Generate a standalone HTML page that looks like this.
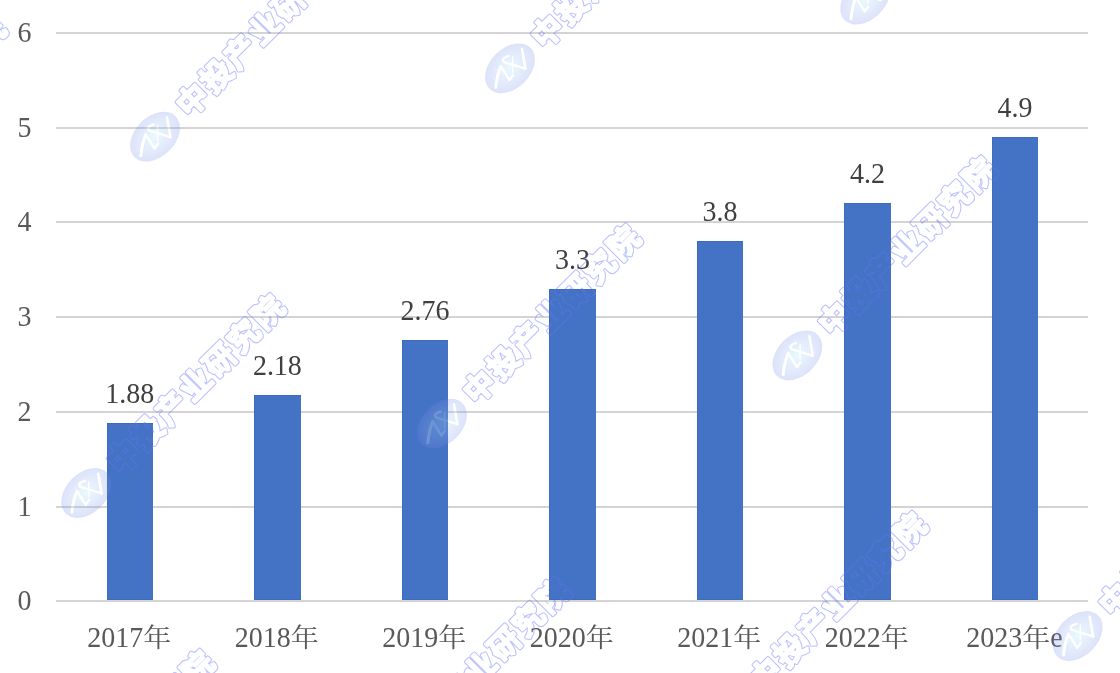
<!DOCTYPE html><html><head><meta charset="utf-8"><style>html,body{margin:0;padding:0;background:#fff;}svg{display:block}</style></head><body>
<svg width="1120" height="673" viewBox="0 0 1120 673">
<rect width="100%" height="100%" fill="#fff"/>
<rect x="56" y="600" width="1032" height="2" fill="#d4d4d4"/>
<rect x="56" y="506" width="1032" height="2" fill="#d4d4d4"/>
<rect x="56" y="411" width="1032" height="2" fill="#d4d4d4"/>
<rect x="56" y="316" width="1032" height="2" fill="#d4d4d4"/>
<rect x="56" y="221" width="1032" height="2" fill="#d4d4d4"/>
<rect x="56" y="127" width="1032" height="2" fill="#d4d4d4"/>
<rect x="56" y="32" width="1032" height="2" fill="#d4d4d4"/>
<text transform="translate(31.60,609.60) scale(1,1.07)" text-anchor="end" font-family="Liberation Serif, serif" font-size="28" fill="#595959">0</text>
<text transform="translate(31.60,515.60) scale(1,1.07)" text-anchor="end" font-family="Liberation Serif, serif" font-size="28" fill="#595959">1</text>
<text transform="translate(31.60,420.60) scale(1,1.07)" text-anchor="end" font-family="Liberation Serif, serif" font-size="28" fill="#595959">2</text>
<text transform="translate(31.60,325.60) scale(1,1.07)" text-anchor="end" font-family="Liberation Serif, serif" font-size="28" fill="#595959">3</text>
<text transform="translate(31.60,230.60) scale(1,1.07)" text-anchor="end" font-family="Liberation Serif, serif" font-size="28" fill="#595959">4</text>
<text transform="translate(31.60,136.60) scale(1,1.07)" text-anchor="end" font-family="Liberation Serif, serif" font-size="28" fill="#595959">5</text>
<text transform="translate(31.60,41.60) scale(1,1.07)" text-anchor="end" font-family="Liberation Serif, serif" font-size="28" fill="#595959">6</text>
<rect x="107" y="423" width="46" height="177" fill="#4472c4"/>
<rect x="107" y="423" width="46" height="1" fill="#3c6bc2"/>
<rect x="107" y="423" width="1" height="177" fill="#3c6bc2"/>
<rect x="107" y="599" width="46" height="1" fill="#3c6bc2"/>
<text transform="translate(129.85,403.00) scale(1,1.07)" text-anchor="middle" font-family="Liberation Serif, serif" font-size="28" fill="#404040">1.88</text>
<text transform="translate(87.25,647.00) scale(1,1.07)" text-anchor="start" font-family="Liberation Serif, serif" font-size="28" fill="#595959">2017</text>
<text transform="translate(143.25,647) scale(1,0.95)" font-family="'Liberation Serif', 'Noto Serif CJK SC', serif" font-size="28" fill="#595959">年</text>
<rect x="254" y="395" width="47" height="205" fill="#4472c4"/>
<rect x="254" y="395" width="47" height="1" fill="#3c6bc2"/>
<rect x="254" y="395" width="1" height="205" fill="#3c6bc2"/>
<rect x="254" y="599" width="47" height="1" fill="#3c6bc2"/>
<text transform="translate(277.37,375.00) scale(1,1.07)" text-anchor="middle" font-family="Liberation Serif, serif" font-size="28" fill="#404040">2.18</text>
<text transform="translate(234.77,647.00) scale(1,1.07)" text-anchor="start" font-family="Liberation Serif, serif" font-size="28" fill="#595959">2018</text>
<text transform="translate(290.77,647) scale(1,0.95)" font-family="'Liberation Serif', 'Noto Serif CJK SC', serif" font-size="28" fill="#595959">年</text>
<rect x="402" y="340" width="46" height="260" fill="#4472c4"/>
<rect x="402" y="340" width="46" height="1" fill="#3c6bc2"/>
<rect x="402" y="340" width="1" height="260" fill="#3c6bc2"/>
<rect x="402" y="599" width="46" height="1" fill="#3c6bc2"/>
<text transform="translate(424.89,320.00) scale(1,1.07)" text-anchor="middle" font-family="Liberation Serif, serif" font-size="28" fill="#404040">2.76</text>
<text transform="translate(382.29,647.00) scale(1,1.07)" text-anchor="start" font-family="Liberation Serif, serif" font-size="28" fill="#595959">2019</text>
<text transform="translate(438.29,647) scale(1,0.95)" font-family="'Liberation Serif', 'Noto Serif CJK SC', serif" font-size="28" fill="#595959">年</text>
<rect x="549" y="289" width="47" height="311" fill="#4472c4"/>
<rect x="549" y="289" width="47" height="1" fill="#3c6bc2"/>
<rect x="549" y="289" width="1" height="311" fill="#3c6bc2"/>
<rect x="549" y="599" width="47" height="1" fill="#3c6bc2"/>
<text transform="translate(572.41,269.00) scale(1,1.07)" text-anchor="middle" font-family="Liberation Serif, serif" font-size="28" fill="#404040">3.3</text>
<text transform="translate(529.81,647.00) scale(1,1.07)" text-anchor="start" font-family="Liberation Serif, serif" font-size="28" fill="#595959">2020</text>
<text transform="translate(585.81,647) scale(1,0.95)" font-family="'Liberation Serif', 'Noto Serif CJK SC', serif" font-size="28" fill="#595959">年</text>
<rect x="697" y="241" width="46" height="359" fill="#4472c4"/>
<rect x="697" y="241" width="46" height="1" fill="#3c6bc2"/>
<rect x="697" y="241" width="1" height="359" fill="#3c6bc2"/>
<rect x="697" y="599" width="46" height="1" fill="#3c6bc2"/>
<text transform="translate(719.93,221.00) scale(1,1.07)" text-anchor="middle" font-family="Liberation Serif, serif" font-size="28" fill="#404040">3.8</text>
<text transform="translate(677.33,647.00) scale(1,1.07)" text-anchor="start" font-family="Liberation Serif, serif" font-size="28" fill="#595959">2021</text>
<text transform="translate(733.33,647) scale(1,0.95)" font-family="'Liberation Serif', 'Noto Serif CJK SC', serif" font-size="28" fill="#595959">年</text>
<rect x="844" y="203" width="47" height="397" fill="#4472c4"/>
<rect x="844" y="203" width="47" height="1" fill="#3c6bc2"/>
<rect x="844" y="203" width="1" height="397" fill="#3c6bc2"/>
<rect x="844" y="599" width="47" height="1" fill="#3c6bc2"/>
<text transform="translate(867.45,183.00) scale(1,1.07)" text-anchor="middle" font-family="Liberation Serif, serif" font-size="28" fill="#404040">4.2</text>
<text transform="translate(824.85,647.00) scale(1,1.07)" text-anchor="start" font-family="Liberation Serif, serif" font-size="28" fill="#595959">2022</text>
<text transform="translate(880.85,647) scale(1,0.95)" font-family="'Liberation Serif', 'Noto Serif CJK SC', serif" font-size="28" fill="#595959">年</text>
<rect x="992" y="137" width="46" height="463" fill="#4472c4"/>
<rect x="992" y="137" width="46" height="1" fill="#3c6bc2"/>
<rect x="992" y="137" width="1" height="463" fill="#3c6bc2"/>
<rect x="992" y="599" width="46" height="1" fill="#3c6bc2"/>
<text transform="translate(1014.97,117.00) scale(1,1.07)" text-anchor="middle" font-family="Liberation Serif, serif" font-size="28" fill="#404040">4.9</text>
<text transform="translate(966.16,647.00) scale(1,1.07)" text-anchor="start" font-family="Liberation Serif, serif" font-size="28" fill="#595959">2023</text>
<text transform="translate(1022.16,647) scale(1,0.95)" font-family="'Liberation Serif', 'Noto Serif CJK SC', serif" font-size="28" fill="#595959">年</text>
<text transform="translate(1050.16,647.00) scale(1,1.07)" text-anchor="start" font-family="Liberation Serif, serif" font-size="28" fill="#595959">e</text>
<defs><radialGradient id="lg" cx="0.5" cy="0.5" r="0.5"><stop offset="0" stop-color="#a8e6ff"/><stop offset="0.5" stop-color="#90b8f2"/><stop offset="0.9" stop-color="#7a92ec"/><stop offset="1" stop-color="#6f86ea"/></radialGradient><filter id="soft" x="-20%" y="-20%" width="140%" height="140%"><feGaussianBlur stdDeviation="0.35"/></filter></defs>
<g transform="translate(155.00,136.70)"><g opacity="0.24"><ellipse cx="0" cy="0" rx="29" ry="20" transform="rotate(-45)" fill="url(#lg)"/><path d="M-14.2 19.1 Q-12.8 6 -9.2 -2" fill="none" stroke="#fff" stroke-width="3.0" stroke-linecap="round"/><path d="M-9.2 -2 L-0.5 11.8 L3 6.9" fill="none" stroke="#fff" stroke-width="2.4" stroke-linecap="round" stroke-linejoin="round"/><path d="M2.6 -11.2 L2.7 4" fill="none" stroke="#fff" stroke-width="1.5" stroke-linecap="round"/><path d="M-1.3 -12.2 Q-9.5 -9.8 -5.9 -6.2 L15.4 0.4" fill="none" stroke="#fff" stroke-width="2.4" stroke-linecap="round" stroke-linejoin="round"/><path d="M15.4 0.4 L12 -19.3" fill="none" stroke="#fff" stroke-width="2.6" stroke-linecap="round"/></g><g transform="rotate(-45)"><mask id="m0" maskUnits="userSpaceOnUse" x="-100" y="-100" width="500" height="200"><text x="37" y="11.72" font-family="'Liberation Sans', 'Noto Sans CJK SC', sans-serif" font-weight="700" font-size="31" letter-spacing="3" fill="#fff" stroke="#fff" stroke-width="4" stroke-linejoin="round">中投产业研究院</text><text x="37" y="11.72" font-family="'Liberation Sans', 'Noto Sans CJK SC', sans-serif" font-weight="700" font-size="31" letter-spacing="3" fill="#000" stroke="#000" stroke-width="2" stroke-linejoin="round">中投产业研究院</text></mask><rect x="-100" y="-100" width="500" height="200" fill="#6476fa" fill-opacity="0.45" mask="url(#m0)" filter="url(#soft)"/></g></g>
<g transform="translate(510.00,68.30)"><g opacity="0.24"><ellipse cx="0" cy="0" rx="29" ry="20" transform="rotate(-45)" fill="url(#lg)"/><path d="M-14.2 19.1 Q-12.8 6 -9.2 -2" fill="none" stroke="#fff" stroke-width="3.0" stroke-linecap="round"/><path d="M-9.2 -2 L-0.5 11.8 L3 6.9" fill="none" stroke="#fff" stroke-width="2.4" stroke-linecap="round" stroke-linejoin="round"/><path d="M2.6 -11.2 L2.7 4" fill="none" stroke="#fff" stroke-width="1.5" stroke-linecap="round"/><path d="M-1.3 -12.2 Q-9.5 -9.8 -5.9 -6.2 L15.4 0.4" fill="none" stroke="#fff" stroke-width="2.4" stroke-linecap="round" stroke-linejoin="round"/><path d="M15.4 0.4 L12 -19.3" fill="none" stroke="#fff" stroke-width="2.6" stroke-linecap="round"/></g><g transform="rotate(-45)"><mask id="m1" maskUnits="userSpaceOnUse" x="-100" y="-100" width="500" height="200"><text x="37" y="11.72" font-family="'Liberation Sans', 'Noto Sans CJK SC', sans-serif" font-weight="700" font-size="31" letter-spacing="3" fill="#fff" stroke="#fff" stroke-width="4" stroke-linejoin="round">中投产业研究院</text><text x="37" y="11.72" font-family="'Liberation Sans', 'Noto Sans CJK SC', sans-serif" font-weight="700" font-size="31" letter-spacing="3" fill="#000" stroke="#000" stroke-width="2" stroke-linejoin="round">中投产业研究院</text></mask><rect x="-100" y="-100" width="500" height="200" fill="#6476fa" fill-opacity="0.45" mask="url(#m1)" filter="url(#soft)"/></g></g>
<g transform="translate(865.20,-0.40)"><g opacity="0.24"><ellipse cx="0" cy="0" rx="29" ry="20" transform="rotate(-45)" fill="url(#lg)"/><path d="M-14.2 19.1 Q-12.8 6 -9.2 -2" fill="none" stroke="#fff" stroke-width="3.0" stroke-linecap="round"/><path d="M-9.2 -2 L-0.5 11.8 L3 6.9" fill="none" stroke="#fff" stroke-width="2.4" stroke-linecap="round" stroke-linejoin="round"/><path d="M2.6 -11.2 L2.7 4" fill="none" stroke="#fff" stroke-width="1.5" stroke-linecap="round"/><path d="M-1.3 -12.2 Q-9.5 -9.8 -5.9 -6.2 L15.4 0.4" fill="none" stroke="#fff" stroke-width="2.4" stroke-linecap="round" stroke-linejoin="round"/><path d="M15.4 0.4 L12 -19.3" fill="none" stroke="#fff" stroke-width="2.6" stroke-linecap="round"/></g><g transform="rotate(-45)"><mask id="m2" maskUnits="userSpaceOnUse" x="-100" y="-100" width="500" height="200"><text x="37" y="11.72" font-family="'Liberation Sans', 'Noto Sans CJK SC', sans-serif" font-weight="700" font-size="31" letter-spacing="3" fill="#fff" stroke="#fff" stroke-width="4" stroke-linejoin="round">中投产业研究院</text><text x="37" y="11.72" font-family="'Liberation Sans', 'Noto Sans CJK SC', sans-serif" font-weight="700" font-size="31" letter-spacing="3" fill="#000" stroke="#000" stroke-width="2" stroke-linejoin="round">中投产业研究院</text></mask><rect x="-100" y="-100" width="500" height="200" fill="#6476fa" fill-opacity="0.45" mask="url(#m2)" filter="url(#soft)"/></g></g>
<g transform="translate(442.00,423.70)"><g opacity="0.24"><ellipse cx="0" cy="0" rx="29" ry="20" transform="rotate(-45)" fill="url(#lg)"/><path d="M-14.2 19.1 Q-12.8 6 -9.2 -2" fill="none" stroke="#fff" stroke-width="3.0" stroke-linecap="round"/><path d="M-9.2 -2 L-0.5 11.8 L3 6.9" fill="none" stroke="#fff" stroke-width="2.4" stroke-linecap="round" stroke-linejoin="round"/><path d="M2.6 -11.2 L2.7 4" fill="none" stroke="#fff" stroke-width="1.5" stroke-linecap="round"/><path d="M-1.3 -12.2 Q-9.5 -9.8 -5.9 -6.2 L15.4 0.4" fill="none" stroke="#fff" stroke-width="2.4" stroke-linecap="round" stroke-linejoin="round"/><path d="M15.4 0.4 L12 -19.3" fill="none" stroke="#fff" stroke-width="2.6" stroke-linecap="round"/></g><g transform="rotate(-45)"><mask id="m3" maskUnits="userSpaceOnUse" x="-100" y="-100" width="500" height="200"><text x="37" y="11.72" font-family="'Liberation Sans', 'Noto Sans CJK SC', sans-serif" font-weight="700" font-size="31" letter-spacing="3" fill="#fff" stroke="#fff" stroke-width="4" stroke-linejoin="round">中投产业研究院</text><text x="37" y="11.72" font-family="'Liberation Sans', 'Noto Sans CJK SC', sans-serif" font-weight="700" font-size="31" letter-spacing="3" fill="#000" stroke="#000" stroke-width="2" stroke-linejoin="round">中投产业研究院</text></mask><rect x="-100" y="-100" width="500" height="200" fill="#6476fa" fill-opacity="0.45" mask="url(#m3)" filter="url(#soft)"/></g></g>
<g transform="translate(797.40,355.40)"><g opacity="0.24"><ellipse cx="0" cy="0" rx="29" ry="20" transform="rotate(-45)" fill="url(#lg)"/><path d="M-14.2 19.1 Q-12.8 6 -9.2 -2" fill="none" stroke="#fff" stroke-width="3.0" stroke-linecap="round"/><path d="M-9.2 -2 L-0.5 11.8 L3 6.9" fill="none" stroke="#fff" stroke-width="2.4" stroke-linecap="round" stroke-linejoin="round"/><path d="M2.6 -11.2 L2.7 4" fill="none" stroke="#fff" stroke-width="1.5" stroke-linecap="round"/><path d="M-1.3 -12.2 Q-9.5 -9.8 -5.9 -6.2 L15.4 0.4" fill="none" stroke="#fff" stroke-width="2.4" stroke-linecap="round" stroke-linejoin="round"/><path d="M15.4 0.4 L12 -19.3" fill="none" stroke="#fff" stroke-width="2.6" stroke-linecap="round"/></g><g transform="rotate(-45)"><mask id="m4" maskUnits="userSpaceOnUse" x="-100" y="-100" width="500" height="200"><text x="37" y="11.72" font-family="'Liberation Sans', 'Noto Sans CJK SC', sans-serif" font-weight="700" font-size="31" letter-spacing="3" fill="#fff" stroke="#fff" stroke-width="4" stroke-linejoin="round">中投产业研究院</text><text x="37" y="11.72" font-family="'Liberation Sans', 'Noto Sans CJK SC', sans-serif" font-weight="700" font-size="31" letter-spacing="3" fill="#000" stroke="#000" stroke-width="2" stroke-linejoin="round">中投产业研究院</text></mask><rect x="-100" y="-100" width="500" height="200" fill="#6476fa" fill-opacity="0.45" mask="url(#m4)" filter="url(#soft)"/></g></g>
<g transform="translate(86.20,493.00)"><g opacity="0.24"><ellipse cx="0" cy="0" rx="29" ry="20" transform="rotate(-45)" fill="url(#lg)"/><path d="M-14.2 19.1 Q-12.8 6 -9.2 -2" fill="none" stroke="#fff" stroke-width="3.0" stroke-linecap="round"/><path d="M-9.2 -2 L-0.5 11.8 L3 6.9" fill="none" stroke="#fff" stroke-width="2.4" stroke-linecap="round" stroke-linejoin="round"/><path d="M2.6 -11.2 L2.7 4" fill="none" stroke="#fff" stroke-width="1.5" stroke-linecap="round"/><path d="M-1.3 -12.2 Q-9.5 -9.8 -5.9 -6.2 L15.4 0.4" fill="none" stroke="#fff" stroke-width="2.4" stroke-linecap="round" stroke-linejoin="round"/><path d="M15.4 0.4 L12 -19.3" fill="none" stroke="#fff" stroke-width="2.6" stroke-linecap="round"/></g><g transform="rotate(-45)"><mask id="m5" maskUnits="userSpaceOnUse" x="-100" y="-100" width="500" height="200"><text x="37" y="11.72" font-family="'Liberation Sans', 'Noto Sans CJK SC', sans-serif" font-weight="700" font-size="31" letter-spacing="3" fill="#fff" stroke="#fff" stroke-width="4" stroke-linejoin="round">中投产业研究院</text><text x="37" y="11.72" font-family="'Liberation Sans', 'Noto Sans CJK SC', sans-serif" font-weight="700" font-size="31" letter-spacing="3" fill="#000" stroke="#000" stroke-width="2" stroke-linejoin="round">中投产业研究院</text></mask><rect x="-100" y="-100" width="500" height="200" fill="#6476fa" fill-opacity="0.45" mask="url(#m5)" filter="url(#soft)"/></g></g>
<g transform="translate(1077.70,636.00)"><g opacity="0.24"><ellipse cx="0" cy="0" rx="29" ry="20" transform="rotate(-45)" fill="url(#lg)"/><path d="M-14.2 19.1 Q-12.8 6 -9.2 -2" fill="none" stroke="#fff" stroke-width="3.0" stroke-linecap="round"/><path d="M-9.2 -2 L-0.5 11.8 L3 6.9" fill="none" stroke="#fff" stroke-width="2.4" stroke-linecap="round" stroke-linejoin="round"/><path d="M2.6 -11.2 L2.7 4" fill="none" stroke="#fff" stroke-width="1.5" stroke-linecap="round"/><path d="M-1.3 -12.2 Q-9.5 -9.8 -5.9 -6.2 L15.4 0.4" fill="none" stroke="#fff" stroke-width="2.4" stroke-linecap="round" stroke-linejoin="round"/><path d="M15.4 0.4 L12 -19.3" fill="none" stroke="#fff" stroke-width="2.6" stroke-linecap="round"/></g><g transform="rotate(-45)"><mask id="m6" maskUnits="userSpaceOnUse" x="-100" y="-100" width="500" height="200"><text x="37" y="11.72" font-family="'Liberation Sans', 'Noto Sans CJK SC', sans-serif" font-weight="700" font-size="31" letter-spacing="3" fill="#fff" stroke="#fff" stroke-width="4" stroke-linejoin="round">中投产业研究院</text><text x="37" y="11.72" font-family="'Liberation Sans', 'Noto Sans CJK SC', sans-serif" font-weight="700" font-size="31" letter-spacing="3" fill="#000" stroke="#000" stroke-width="2" stroke-linejoin="round">中投产业研究院</text></mask><rect x="-100" y="-100" width="500" height="200" fill="#6476fa" fill-opacity="0.45" mask="url(#m6)" filter="url(#soft)"/></g></g>
<g transform="translate(370.90,776.90)"><g opacity="0.24"><ellipse cx="0" cy="0" rx="29" ry="20" transform="rotate(-45)" fill="url(#lg)"/><path d="M-14.2 19.1 Q-12.8 6 -9.2 -2" fill="none" stroke="#fff" stroke-width="3.0" stroke-linecap="round"/><path d="M-9.2 -2 L-0.5 11.8 L3 6.9" fill="none" stroke="#fff" stroke-width="2.4" stroke-linecap="round" stroke-linejoin="round"/><path d="M2.6 -11.2 L2.7 4" fill="none" stroke="#fff" stroke-width="1.5" stroke-linecap="round"/><path d="M-1.3 -12.2 Q-9.5 -9.8 -5.9 -6.2 L15.4 0.4" fill="none" stroke="#fff" stroke-width="2.4" stroke-linecap="round" stroke-linejoin="round"/><path d="M15.4 0.4 L12 -19.3" fill="none" stroke="#fff" stroke-width="2.6" stroke-linecap="round"/></g><g transform="rotate(-45)"><mask id="m7" maskUnits="userSpaceOnUse" x="-100" y="-100" width="500" height="200"><text x="37" y="11.72" font-family="'Liberation Sans', 'Noto Sans CJK SC', sans-serif" font-weight="700" font-size="31" letter-spacing="3" fill="#fff" stroke="#fff" stroke-width="4" stroke-linejoin="round">中投产业研究院</text><text x="37" y="11.72" font-family="'Liberation Sans', 'Noto Sans CJK SC', sans-serif" font-weight="700" font-size="31" letter-spacing="3" fill="#000" stroke="#000" stroke-width="2" stroke-linejoin="round">中投产业研究院</text></mask><rect x="-100" y="-100" width="500" height="200" fill="#6476fa" fill-opacity="0.45" mask="url(#m7)" filter="url(#soft)"/></g></g>
<g transform="translate(728.20,710.90)"><g opacity="0.24"><ellipse cx="0" cy="0" rx="29" ry="20" transform="rotate(-45)" fill="url(#lg)"/><path d="M-14.2 19.1 Q-12.8 6 -9.2 -2" fill="none" stroke="#fff" stroke-width="3.0" stroke-linecap="round"/><path d="M-9.2 -2 L-0.5 11.8 L3 6.9" fill="none" stroke="#fff" stroke-width="2.4" stroke-linecap="round" stroke-linejoin="round"/><path d="M2.6 -11.2 L2.7 4" fill="none" stroke="#fff" stroke-width="1.5" stroke-linecap="round"/><path d="M-1.3 -12.2 Q-9.5 -9.8 -5.9 -6.2 L15.4 0.4" fill="none" stroke="#fff" stroke-width="2.4" stroke-linecap="round" stroke-linejoin="round"/><path d="M15.4 0.4 L12 -19.3" fill="none" stroke="#fff" stroke-width="2.6" stroke-linecap="round"/></g><g transform="rotate(-45)"><mask id="m8" maskUnits="userSpaceOnUse" x="-100" y="-100" width="500" height="200"><text x="37" y="11.72" font-family="'Liberation Sans', 'Noto Sans CJK SC', sans-serif" font-weight="700" font-size="31" letter-spacing="3" fill="#fff" stroke="#fff" stroke-width="4" stroke-linejoin="round">中投产业研究院</text><text x="37" y="11.72" font-family="'Liberation Sans', 'Noto Sans CJK SC', sans-serif" font-weight="700" font-size="31" letter-spacing="3" fill="#000" stroke="#000" stroke-width="2" stroke-linejoin="round">中投产业研究院</text></mask><rect x="-100" y="-100" width="500" height="200" fill="#6476fa" fill-opacity="0.45" mask="url(#m8)" filter="url(#soft)"/></g></g>
<g transform="translate(-192.40,214.90)"><g opacity="0.24"><ellipse cx="0" cy="0" rx="29" ry="20" transform="rotate(-45)" fill="url(#lg)"/><path d="M-14.2 19.1 Q-12.8 6 -9.2 -2" fill="none" stroke="#fff" stroke-width="3.0" stroke-linecap="round"/><path d="M-9.2 -2 L-0.5 11.8 L3 6.9" fill="none" stroke="#fff" stroke-width="2.4" stroke-linecap="round" stroke-linejoin="round"/><path d="M2.6 -11.2 L2.7 4" fill="none" stroke="#fff" stroke-width="1.5" stroke-linecap="round"/><path d="M-1.3 -12.2 Q-9.5 -9.8 -5.9 -6.2 L15.4 0.4" fill="none" stroke="#fff" stroke-width="2.4" stroke-linecap="round" stroke-linejoin="round"/><path d="M15.4 0.4 L12 -19.3" fill="none" stroke="#fff" stroke-width="2.6" stroke-linecap="round"/></g><g transform="rotate(-45)"><mask id="m9" maskUnits="userSpaceOnUse" x="-100" y="-100" width="500" height="200"><text x="37" y="11.72" font-family="'Liberation Sans', 'Noto Sans CJK SC', sans-serif" font-weight="700" font-size="31" letter-spacing="3" fill="#fff" stroke="#fff" stroke-width="4" stroke-linejoin="round">中投产业研究院</text><text x="37" y="11.72" font-family="'Liberation Sans', 'Noto Sans CJK SC', sans-serif" font-weight="700" font-size="31" letter-spacing="3" fill="#000" stroke="#000" stroke-width="2" stroke-linejoin="round">中投产业研究院</text></mask><rect x="-100" y="-100" width="500" height="200" fill="#6476fa" fill-opacity="0.45" mask="url(#m9)" filter="url(#soft)"/></g></g>
<g transform="translate(16.10,848.80)"><g opacity="0.24"><ellipse cx="0" cy="0" rx="29" ry="20" transform="rotate(-45)" fill="url(#lg)"/><path d="M-14.2 19.1 Q-12.8 6 -9.2 -2" fill="none" stroke="#fff" stroke-width="3.0" stroke-linecap="round"/><path d="M-9.2 -2 L-0.5 11.8 L3 6.9" fill="none" stroke="#fff" stroke-width="2.4" stroke-linecap="round" stroke-linejoin="round"/><path d="M2.6 -11.2 L2.7 4" fill="none" stroke="#fff" stroke-width="1.5" stroke-linecap="round"/><path d="M-1.3 -12.2 Q-9.5 -9.8 -5.9 -6.2 L15.4 0.4" fill="none" stroke="#fff" stroke-width="2.4" stroke-linecap="round" stroke-linejoin="round"/><path d="M15.4 0.4 L12 -19.3" fill="none" stroke="#fff" stroke-width="2.6" stroke-linecap="round"/></g><g transform="rotate(-45)"><mask id="m10" maskUnits="userSpaceOnUse" x="-100" y="-100" width="500" height="200"><text x="37" y="11.72" font-family="'Liberation Sans', 'Noto Sans CJK SC', sans-serif" font-weight="700" font-size="31" letter-spacing="3" fill="#fff" stroke="#fff" stroke-width="4" stroke-linejoin="round">中投产业研究院</text><text x="37" y="11.72" font-family="'Liberation Sans', 'Noto Sans CJK SC', sans-serif" font-weight="700" font-size="31" letter-spacing="3" fill="#000" stroke="#000" stroke-width="2" stroke-linejoin="round">中投产业研究院</text></mask><rect x="-100" y="-100" width="500" height="200" fill="#6476fa" fill-opacity="0.45" mask="url(#m10)" filter="url(#soft)"/></g></g>
</svg></body></html>
